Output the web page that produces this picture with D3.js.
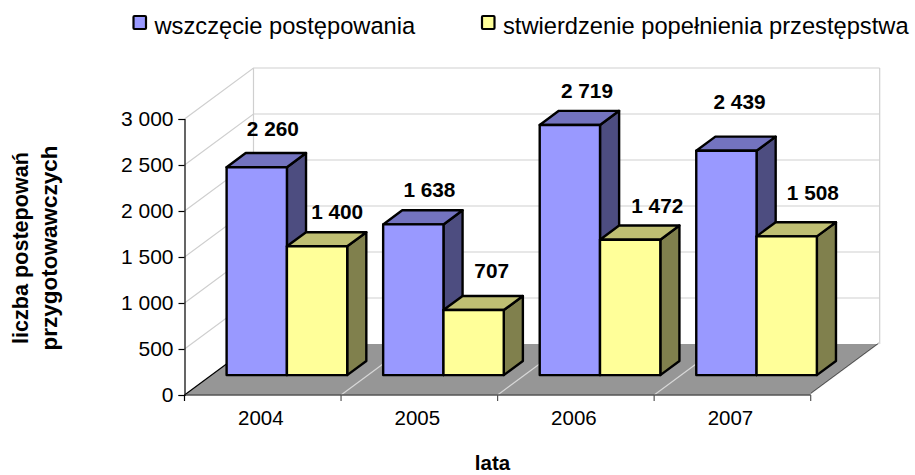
<!DOCTYPE html>
<html><head><meta charset="utf-8">
<script src="https://cdn.jsdelivr.net/npm/d3@7"></script>
<style>html,body{margin:0;padding:0;background:#fff}svg{display:block}
text{font-family:"Liberation Sans",Arial,sans-serif;fill:#000}</style></head>
<body><svg id="c" width="915" height="475"></svg>
<script>
const years=["2004","2005","2006","2007"];
const initiated=[2260,1638,2719,2439];
const established=[1400,707,1472,1508];
const seriesNames=["wszczęcie postępowania","stwierdzenie popełnienia przestępstwa"];
const frontColors=["#9999ff","#ffff99"];
const topColors=["#7373bf","#bfbf73"];
const sideColors=["#4d4d80","#80804d"];
const yTicks=[0,500,1000,1500,2000,2500,3000];
// hand-placed data label nudges, per series and year
const labelNudgeX=[[0,0,1,-3],[4,2,11,10]];
const labelNudgeY=[[-17,-13,-13,-28],[-13,-18,-13,-22]];

const svg=d3.select("#c");
const y=d3.scaleLinear().domain([0,3000]).range([395,119]);
const x=d3.scaleBand().domain(years).range([184.5,810.7]);
const depth=d3.scaleLinear().domain([0,1]).range([0,69]);
const rise=d3.scaleLinear().domain([0,1]).range([0,-51]);
const P=(px,py,z)=>[px+depth(z),py+rise(z)];
const path=pts=>"M"+pts.map(p=>p.join(",")).join("L")+"Z";
const line=pts=>"M"+pts.map(p=>p.join(",")).join("L");
const x0=x.range()[0],x1=x.range()[1];
const FF='"Liberation Sans",Arial,sans-serif';

// floor
svg.append("path").attr("d",path([P(x0,y(0),0),P(x1,y(0),0),P(x1,y(0),1),P(x0,y(0),1)])).attr("fill","#969696");
// walls and gridlines
const grid=svg.append("g").attr("fill","none").attr("stroke","#cfcfcf").attr("stroke-width",1.2);
yTicks.forEach(t=>{
  if(t>0) grid.append("path").attr("d",line([P(x0,y(t),0),P(x0,y(t),1),P(x1,y(t),1)]));
});
grid.append("path").attr("d",line([P(x0,y(0),1),P(x0,y(3000),1)]));
grid.append("path").attr("d",line([P(x1,y(0),1),P(x1,y(3000),1)]));
// floor grid lines
years.slice(1).forEach(c=>{
  svg.append("path").attr("d",line([P(x(c),y(0),0),P(x(c),y(0),1)])).attr("stroke","#d8d8d8").attr("stroke-width",1.2).attr("fill","none");
});
svg.append("path").attr("d",line([P(x1,y(0),0),P(x1,y(0),1)])).attr("stroke","#fff").attr("stroke-width",1.4).attr("fill","none");
svg.append("path").attr("d",line([P(x1,y(0),0.02),P(x1,y(0),1)])).attr("stroke","#222").attr("stroke-width",.6).attr("fill","none").attr("transform","translate(-1,-1)");
svg.append("path").attr("d",line([P(x0,y(0),0),P(x0,y(0),1)])).attr("stroke","#000").attr("stroke-width",1.2).attr("fill","none");
svg.append("path").attr("d",line([P(x0,y(0),0),P(x1,y(0),0)])).attr("stroke","#555").attr("stroke-width",1.4).attr("fill","none");

// axes
const fmt=d3.formatLocale({decimal:",",thousands:"\u00a0",grouping:[3],currency:["",""]}).format(",d");
const ay=svg.append("g").attr("transform",`translate(${x0},0)`).call(d3.axisLeft(y).tickValues(yTicks).tickFormat(fmt).tickSizeOuter(0).tickSize(6).tickPadding(5));
ay.select(".domain").attr("stroke","#000").attr("stroke-width",1.2);
ay.selectAll("line").attr("stroke","#000").attr("stroke-width",1.2);
ay.selectAll("text").attr("font-size",21).attr("fill","#000").attr("font-family",FF);
const ax=svg.append("g").attr("transform",`translate(-2,${y(0)})`).call(d3.axisBottom(x).tickSize(0).tickPadding(15));
ax.select(".domain").remove();
ax.selectAll("text").attr("font-size",20.5).attr("fill","#000").attr("font-family",FF);
const tickPos=years.map(c=>x(c)).concat([x1]);
svg.append("g").selectAll("line").data(tickPos).join("line")
  .attr("x1",d=>d).attr("x2",d=>d).attr("y1",y(0)).attr("y2",y(0)+6)
  .attr("stroke",(d,i)=>(i==0?"#000":"#555")).attr("stroke-width",1.2);

// bars
const zA=0.39,zB=0.667,barW=60.3,barInset=15.2;
const bars=svg.append("g");
const labels=[];
years.forEach((c,ci)=>{
  [initiated,established].forEach((vals,si)=>{
    const v=vals[ci];
    const L=x(c)+barInset+si*barW,R=L+barW;
    const base=y(0),top=y(v);
    const s={stroke:"#000","stroke-width":2.4,"stroke-linejoin":"round"};
    const poly=(pts,f)=>{const e=bars.append("path").attr("d",path(pts)).attr("fill",f);Object.entries(s).forEach(([k,val])=>e.attr(k,val));};
    poly([P(R,base,zA),P(R,base,zB),P(R,top,zB),P(R,top,zA)],sideColors[si]);
    poly([P(L,top,zA),P(R,top,zA),P(R,top,zB),P(L,top,zB)],topColors[si]);
    poly([P(L,base,zA),P(R,base,zA),P(R,top,zA),P(L,top,zA)],frontColors[si]);
    const t=P((L+R)/2,top,zB);
    labels.push({x:t[0]-3+labelNudgeX[si][ci],y:t[1]+labelNudgeY[si][ci],v});
  });
});
svg.append("g").selectAll("text").data(labels).join("text")
  .attr("x",d=>d.x).attr("y",d=>d.y).attr("text-anchor","middle")
  .attr("font-size",20.8).attr("font-weight","bold").text(d=>fmt(d.v));

// legend
const legX=[133.5,482],legT=[154.5,503];
seriesNames.forEach((n,i)=>{
  svg.append("rect").attr("x",legX[i]).attr("y",16).attr("width",12.5).attr("height",13).attr("rx",1)
    .attr("fill",frontColors[i]).attr("stroke","#000").attr("stroke-width",2.2);
  svg.append("text").attr("x",legT[i]).attr("y",33.5).attr("font-size",23.7).text(n);
});

// titles
svg.append("text").attr("x",492.5).attr("y",470).attr("text-anchor","middle").attr("font-size",20.5).attr("font-weight","bold").text("lata");
const yt=svg.append("g").attr("transform","translate(0,248) rotate(-90)");
yt.append("text").attr("x",0).attr("y",28).attr("text-anchor","middle").attr("font-size",21.6).attr("font-weight","bold").text("liczba postepowań");
yt.append("text").attr("x",0).attr("y",57).attr("text-anchor","middle").attr("font-size",22.5).attr("font-weight","bold").text("przygotowawczych");
</script></body></html>
